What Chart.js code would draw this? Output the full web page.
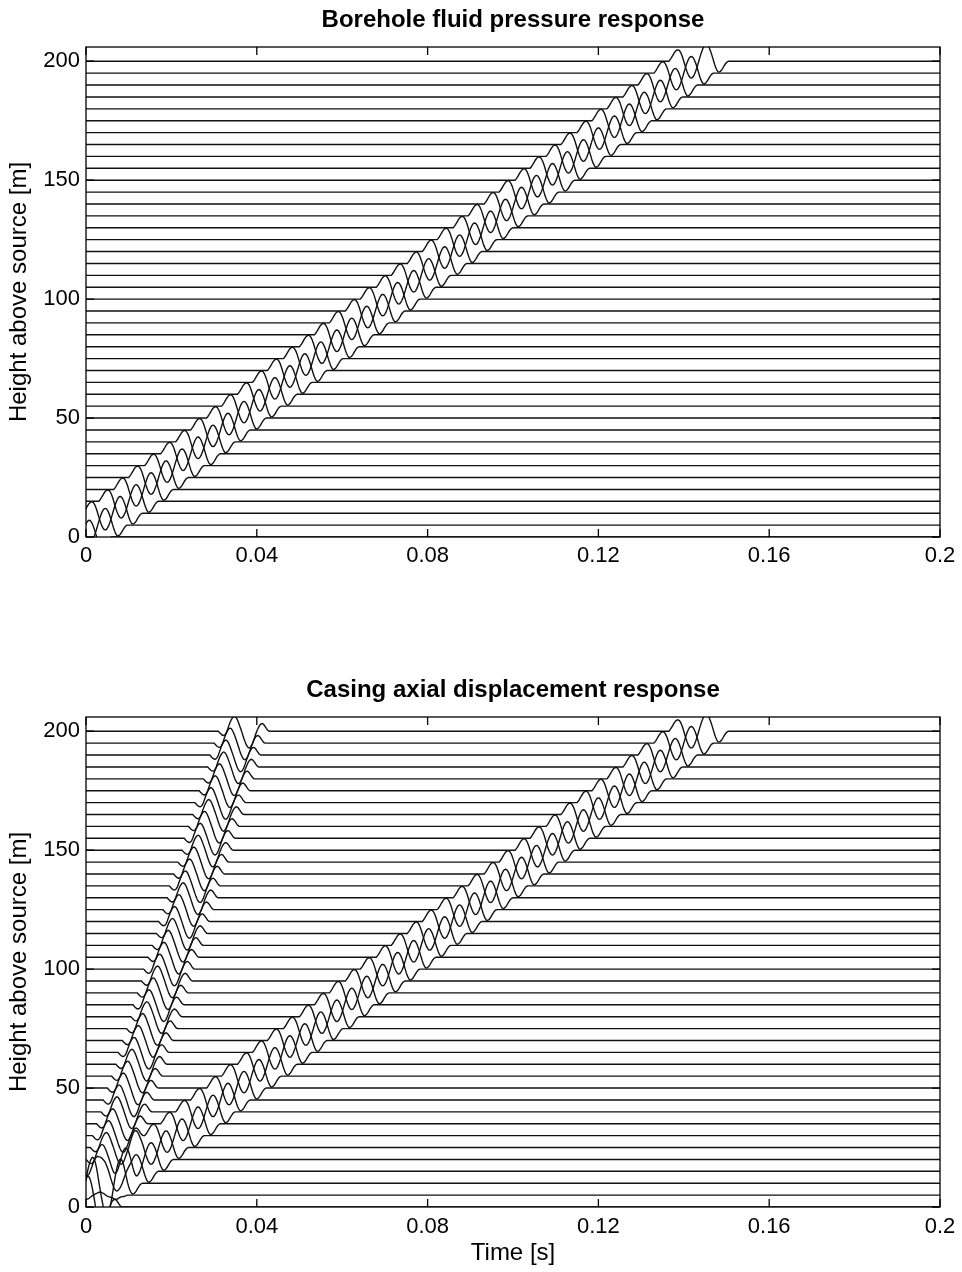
<!DOCTYPE html>
<html>
<head>
<meta charset="utf-8">
<script src="https://cdn.jsdelivr.net/npm/chart.js@4.4.1/dist/chart.umd.min.js"></script>
<style>
    body { margin: 0; background: #fff; }
    .box { position: absolute; left: 0; width: 962px; height: 636px; }
</style>
</head>
<body>
<div class="box" style="top:0"><canvas id="pressure" width="962" height="636"></canvas></div>
<div class="box" style="top:636px"><canvas id="casing" width="962" height="636"></canvas></div>
<script>
// receiver heights above the source [m]
const traceHeights = [0, 5, 10, 15, 20, 25, 30, 35, 40, 45, 50, 55, 60, 65, 70, 75, 80, 85, 90, 95, 100,
    105, 110, 115, 120, 125, 130, 135, 140, 145, 150, 155, 160, 165, 170, 175, 180, 185, 190, 195, 200];

// onset of the slow (tube) wave train on each trace [s]
const tubeOnset = [-0.008, -0.00425, -0.00075, 0.003, 0.0065, 0.01, 0.01375, 0.0175, 0.021, 0.0245, 0.02825,
    0.03175, 0.0355, 0.039, 0.0425, 0.04625, 0.05, 0.0535, 0.057, 0.06075, 0.06425,
    0.068, 0.0715, 0.07525, 0.07875, 0.08225, 0.086, 0.0895, 0.09325, 0.09675, 0.1005,
    0.104, 0.10775, 0.11125, 0.115, 0.1185, 0.122, 0.12575, 0.12925, 0.133, 0.1365];

// onset of the fast (casing) arrival on each trace [s]
const casingOnset = [-0.0035, -0.0025, -0.002, -0.001, 0, 0.001, 0.0015, 0.0025, 0.0035, 0.004, 0.005,
    0.006, 0.007, 0.0075, 0.0085, 0.0095, 0.0105, 0.011, 0.012, 0.013, 0.0135,
    0.0145, 0.0155, 0.0165, 0.017, 0.018, 0.019, 0.0195, 0.0205, 0.0215, 0.0225,
    0.023, 0.024, 0.025, 0.0255, 0.0265, 0.0275, 0.0285, 0.029, 0.03, 0.031];

// wavelet shapes, one sample every 0.25 ms, normalised
const tubeWavelet = [0, 0.08, 0.17, 0.28, 0.39, 0.5, 0.59, 0.65, 0.68, 0.68, 0.63, 0.53, 0.39, 0.21,
    0, -0.22, -0.43, -0.62, -0.78, -0.9, -0.98, -1.0, -0.98, -0.9, -0.78, -0.62, -0.43, -0.22,
    0, 0.22, 0.43, 0.62, 0.78, 0.9, 0.98, 1.0, 0.98, 0.9, 0.78, 0.62, 0.43, 0.22,
    0, -0.21, -0.39, -0.53, -0.63, -0.65, -0.62, -0.56, -0.47, -0.36, -0.25, -0.15, -0.07, -0.02, 0];
const casingWavelet = [0, -0.07, -0.14, -0.2, -0.24, -0.25, -0.22, -0.14, 0, 0.19, 0.37, 0.54, 0.68, 0.79,
    0.87, 0.9, 0.87, 0.79, 0.66, 0.5, 0.32, 0.14, -0.05, -0.25, -0.45, -0.63, -0.79, -0.91, -0.98,
    -1.0, -0.96, -0.87, -0.73, -0.56, -0.37, -0.17, 0, 0.15, 0.28, 0.38, 0.44, 0.46, 0.43, 0.36,
    0.27, 0.17, 0.08, 0.02, 0];

const sampleStep = 0.00025;
const tubeAmp = 7;
const casingAmp = 7;

const xTicks = [0, 0.04, 0.08, 0.12, 0.16, 0.2];
const yTicks = [0, 50, 100, 150, 200];

const FONT = 'Liberation Sans';

function buildTrace(h, waves) {
    const pts = [];
    const n0 = Math.round(-0.01 / sampleStep);
    const n1 = Math.round(0.2 / sampleStep);
    for (let n = n0; n <= n1; n++) {
        let y = h;
        waves.forEach(([onset, w, amp]) => {
            const k = n - Math.round(onset / sampleStep);
            if (k >= 0 && k < w.length) y += amp * w[k];
        });
        pts.push({ x: n * sampleStep, y: y });
    }
    return pts;
}

// matlab style frame with inward ticks
const framePlugin = {
    id: 'frame',
    afterDatasetsDraw(chart) {
        const { ctx, chartArea: a, scales } = chart;
        ctx.save();
        ctx.strokeStyle = '#000';
        ctx.lineWidth = 1.3;
        ctx.strokeRect(a.left, a.top, a.right - a.left, a.bottom - a.top);
        ctx.beginPath();
        xTicks.forEach(v => {
            const px = scales.x.getPixelForValue(v);
            ctx.moveTo(px, a.bottom); ctx.lineTo(px, a.bottom - 8);
            ctx.moveTo(px, a.top); ctx.lineTo(px, a.top + 8);
        });
        yTicks.forEach(v => {
            const py = scales.y.getPixelForValue(v);
            ctx.moveTo(a.left, py); ctx.lineTo(a.left + 8, py);
            ctx.moveTo(a.right, py); ctx.lineTo(a.right - 8, py);
        });
        ctx.stroke();
        ctx.restore();
    }
};

function makeChart(id, title, datasets, o) {
    return new Chart(document.getElementById(id), {
        type: 'line',
        data: { datasets: datasets },
        plugins: [framePlugin],
        options: {
            responsive: false,
            animation: false,
            parsing: false,
            normalized: true,
            layout: { padding: { left: 0, right: 22, top: 0, bottom: 0 } },
            plugins: {
                legend: { display: false },
                tooltip: { enabled: false },
                title: {
                    display: true,
                    text: title,
                    fullSize: false,
                    color: '#000',
                    font: { family: FONT, size: 24, weight: 'bold', lineHeight: 1.2 },
                    padding: { top: o.titleTop, bottom: o.titleBottom }
                }
            },
            scales: {
                x: {
                    type: 'linear',
                    min: 0,
                    max: 0.2,
                    afterBuildTicks: s => { s.ticks = xTicks.map(v => ({ value: v })); },
                    afterFit: s => { s.height = o.xHeight; s.paddingLeft = 0; s.paddingRight = 0; },
                    grid: { display: false, drawTicks: false },
                    border: { display: false },
                    ticks: {
                        color: '#000',
                        padding: o.xPad,
                        maxRotation: 0,
                        callback: v => String(v),
                        font: { family: FONT, size: 22, lineHeight: 1.2 }
                    },
                    title: {
                        display: o.xTitle,
                        text: 'Time [s]',
                        color: '#000',
                        font: { family: FONT, size: 24, lineHeight: 1.2 },
                        padding: { top: 0, bottom: 4.6 }
                    }
                },
                y: {
                    type: 'linear',
                    min: 0,
                    max: 206,
                    afterBuildTicks: s => { s.ticks = yTicks.map(v => ({ value: v })); },
                    afterFit: s => { s.width = 86; s.paddingTop = 0; s.paddingBottom = 0; },
                    grid: { display: false, drawTicks: false },
                    border: { display: false },
                    ticks: {
                        color: '#000',
                        padding: 6,
                        font: { family: FONT, size: 22, lineHeight: 1.2 }
                    },
                    title: {
                        display: true,
                        text: 'Height above source [m]',
                        color: '#000',
                        font: { family: FONT, size: 24, lineHeight: 1.2 },
                        padding: { top: 5, bottom: 0 }
                    }
                }
            },
            elements: {
                line: { borderColor: '#111', borderWidth: 1.4, tension: 0, fill: false },
                point: { radius: 0 }
            }
        }
    });
}

const pressureSets = traceHeights.map((h, i) => ({
    data: buildTrace(h, [[tubeOnset[i], tubeWavelet, tubeAmp]])
}));
const casingSets = traceHeights.map((h, i) => ({
    data: buildTrace(h, [[casingOnset[i], casingWavelet, casingAmp], [tubeOnset[i], tubeWavelet, tubeAmp]])
}));

makeChart('pressure', 'Borehole fluid pressure response', pressureSets,
    { titleTop: 5.6, titleBottom: 12.6, xHeight: 99, xPad: 6, xTitle: false });
makeChart('casing', 'Casing axial displacement response', casingSets,
    { titleTop: 39.6, titleBottom: 12.6, xHeight: 65, xPad: 6.8, xTitle: true });
</script>
</body>
</html>
